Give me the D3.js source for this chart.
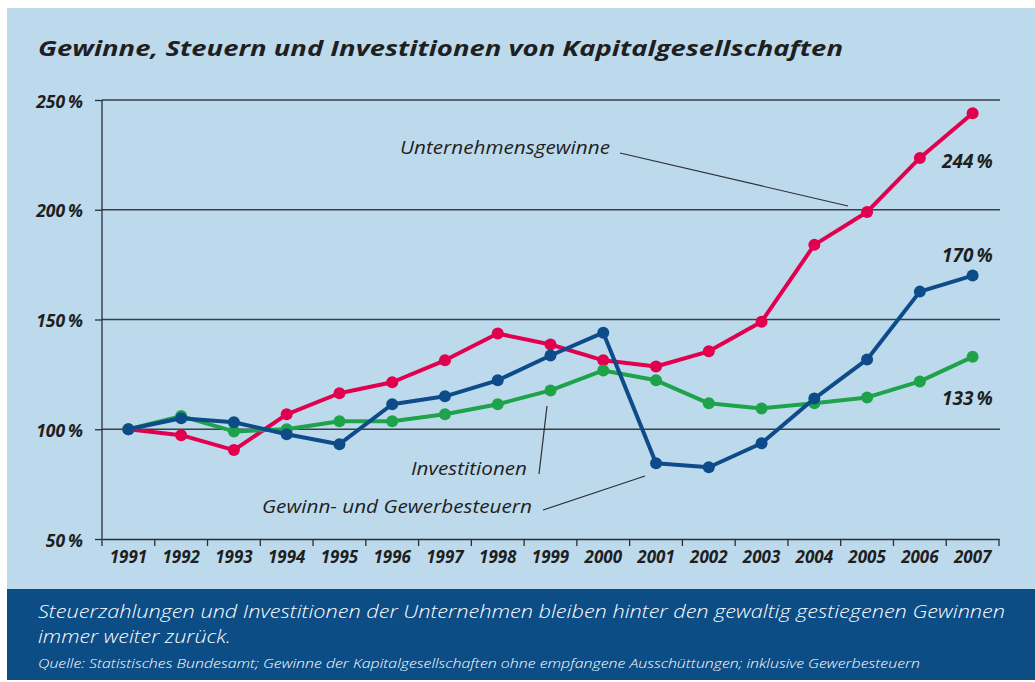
<!DOCTYPE html>
<html>
<head>
<meta charset="utf-8">
<script src="https://cdn.jsdelivr.net/npm/d3@7"></script>
<style>
  body { margin: 0; background: #fff; }
  text { font-family: "Open Sans", "DejaVu Sans", sans-serif; }
</style>
</head>
<body>
<div id="chart"></div>
<script>
const years = ["1991","1992","1993","1994","1995","1996","1997","1998","1999","2000","2001","2002","2003","2004","2005","2006","2007"];
const gewinne = [100, 97.3, 90.5, 106.8, 116.4, 121.4, 131.4, 143.6, 138.6, 131.4, 128.6, 135.5, 149, 184, 199, 223.6, 244];
const steuern = [100, 105, 103.2, 97.7, 93.2, 111.4, 115, 122.3, 133.6, 144, 84.5, 82.7, 93.6, 114, 131.8, 162.7, 170];
const investitionen = [100, 106, 99, 100, 103.6, 103.6, 106.8, 111.4, 117.7, 126.8, 122.3, 111.8, 109.5, 111.8, 114.5, 121.8, 133];
const yTicks = [50, 100, 150, 200, 250];

const width = 1035;
const height = 682;

const svg = d3.select("#chart")
    .append("svg")
    .attr("width", width)
    .attr("height", height);

// panel + footer
svg.append("rect")
   .attr("x", 7).attr("y", 8)
   .attr("width", width - 7).attr("height", 581)
   .attr("fill", "#bddaed");
svg.append("rect")
   .attr("x", 7).attr("y", 589)
   .attr("width", width - 7).attr("height", 91)
   .attr("fill", "#0c4d86");

svg.append("text")
   .attr("x", 38).attr("y", 56)
   .attr("font-size", 22)
   .attr("font-weight", "bold")
   .attr("font-style", "italic")
   .attr("fill", "#1f1f1f")
   .attr("textLength", 805)
   .attr("lengthAdjust", "spacingAndGlyphs")
   .text("Gewinne, Steuern und Investitionen von Kapitalgesellschaften");

const x = d3.scaleBand()
    .domain(years)
    .range([102, 999]);

const y = d3.scaleLinear()
    .domain([50, 250])
    .range([539, 100]);

// grid lines
svg.append("g")
   .selectAll("line")
   .data(yTicks.slice(1))
   .enter()
   .append("line")
   .attr("x1", 102).attr("x2", 1000)
   .attr("y1", d => y(d)).attr("y2", d => y(d))
   .attr("stroke", "#3a3f44")
   .attr("stroke-width", 1.3);

const yAxis = svg.append("g")
   .attr("transform", "translate(102,0)")
   .call(d3.axisLeft(y).tickValues(yTicks).tickSize(7).tickFormat(d => d + "\u2009%"));

const xAxis = svg.append("g")
   .attr("transform", "translate(0,539)")
   .call(d3.axisBottom(x).tickSize(0).tickPadding(12));

// band boundary ticks
svg.append("g")
   .selectAll("line")
   .data(d3.range(years.length + 1))
   .enter()
   .append("line")
   .attr("x1", i => 102 + i * x.step())
   .attr("x2", i => 102 + i * x.step())
   .attr("y1", 539).attr("y2", 546)
   .attr("stroke", "#2a2e33")
   .attr("stroke-width", 1.3);

[yAxis, xAxis].forEach(ax => {
  ax.select(".domain").attr("stroke", "#2a2e33").attr("stroke-width", 1.3);
  ax.selectAll(".tick line").attr("stroke", "#2a2e33").attr("stroke-width", 1.3);
  ax.selectAll("text")
    .attr("font-family", "'Open Sans', sans-serif")
    .attr("font-weight", "bold")
    .attr("font-style", "italic")
    .attr("fill", "#1f1f1f");
});
xAxis.selectAll("text").attr("font-size", 17);
yAxis.selectAll("text").attr("font-size", 17.5).attr("x", -19).attr("dy", "0.4em");
yAxis.select(".domain").attr("d", "M0,539V100");

const series = [
  { name: "gewinne", values: gewinne, colour: "#e1004e" },
  { name: "investitionen", values: investitionen, colour: "#1ea34b" },
  { name: "steuern", values: steuern, colour: "#0d4b89" }
];

const line = d3.line()
    .x((d, i) => x(years[i]) + x.bandwidth() / 2)
    .y(d => y(d));

series.forEach(s => {
  const g = svg.append("g").attr("class", s.name);
  g.append("path")
   .attr("d", line(s.values))
   .attr("fill", "none")
   .attr("stroke", s.colour)
   .attr("stroke-width", 4)
   .attr("stroke-linejoin", "round");
  g.selectAll("circle")
   .data(s.values)
   .enter()
   .append("circle")
   .attr("cx", (d, i) => x(years[i]) + x.bandwidth() / 2)
   .attr("cy", d => y(d))
   .attr("r", 6)
   .attr("fill", s.colour);
});

// annotations
const labels = [
  { text: "Unternehmensgewinne", x: 400, y: 154, w: 210, lx1: 620, ly1: 153, lx2: 848, ly2: 206 },
  { text: "Investitionen", x: 411, y: 475, w: 116, lx1: 539, ly1: 474, lx2: 547, ly2: 406 },
  { text: "Gewinn- und Gewerbesteuern", x: 262, y: 513, w: 270, lx1: 543, ly1: 510, lx2: 645, ly2: 476 }
];
labels.forEach(l => {
  svg.append("text")
     .attr("x", l.x).attr("y", l.y)
     .attr("font-size", 18.5)
     .attr("font-style", "italic")
     .attr("fill", "#1f1f1f")
     .attr("textLength", l.w)
     .attr("lengthAdjust", "spacingAndGlyphs")
     .text(l.text);
  svg.append("line")
     .attr("x1", l.lx1).attr("y1", l.ly1)
     .attr("x2", l.lx2).attr("y2", l.ly2)
     .attr("stroke", "#2a2e33")
     .attr("stroke-width", 1.2);
});

const endLabels = [
  { text: "244\u2009%", y: 168 },
  { text: "170\u2009%", y: 262 },
  { text: "133\u2009%", y: 405 }
];
svg.selectAll(".endlabel")
   .data(endLabels)
   .enter()
   .append("text")
   .attr("x", 942).attr("y", d => d.y)
   .attr("font-size", 19)
   .attr("font-weight", "bold")
   .attr("font-style", "italic")
   .attr("fill", "#1f1f1f")
   .text(d => d.text);

// footer
svg.append("text")
   .attr("x", 38).attr("y", 618)
   .attr("font-size", 18)
   .attr("font-style", "italic")
   .attr("font-weight", 300)
   .attr("fill", "#ffffff")
   .attr("textLength", 967)
   .attr("lengthAdjust", "spacingAndGlyphs")
   .text("Steuerzahlungen und Investitionen der Unternehmen bleiben hinter den gewaltig gestiegenen Gewinnen");
svg.append("text")
   .attr("x", 38).attr("y", 643)
   .attr("font-size", 18)
   .attr("font-style", "italic")
   .attr("font-weight", 300)
   .attr("fill", "#ffffff")
   .attr("textLength", 193)
   .attr("lengthAdjust", "spacingAndGlyphs")
   .text("immer weiter zurück.");
svg.append("text")
   .attr("x", 38).attr("y", 668)
   .attr("font-size", 13)
   .attr("font-style", "italic")
   .attr("font-weight", 300)
   .attr("fill", "#ffffff")
   .attr("textLength", 882)
   .attr("lengthAdjust", "spacingAndGlyphs")
   .text("Quelle: Statistisches Bundesamt; Gewinne der Kapitalgesellschaften ohne empfangene Ausschüttungen; inklusive Gewerbesteuern");
</script>
</body>
</html>
